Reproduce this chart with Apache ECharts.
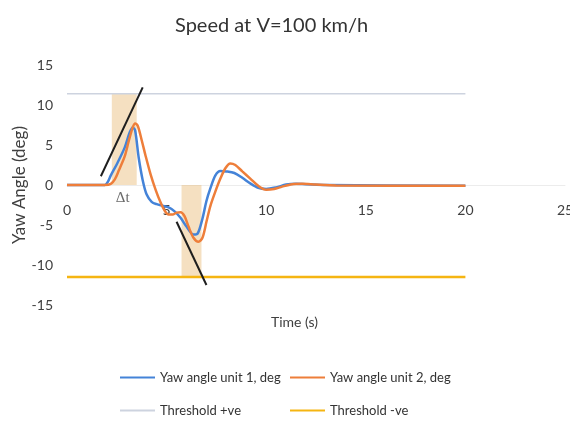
<!DOCTYPE html>
<html><head><meta charset="utf-8">
<script src="https://cdn.jsdelivr.net/npm/echarts@6/dist/echarts.min.js"></script>
<style>html,body{margin:0;padding:0;background:#fff}#c{width:570px;height:422px}</style>
</head><body><div id="c"></div>
<script>
const titleText = 'Speed at V=100 km/h';
const xAxisTitle = 'Time (s)';
const yAxisTitle = 'Yaw Angle (deg)';
const seriesNames = ['Yaw angle unit 1, deg', 'Yaw angle unit 2, deg', 'Threshold +ve', 'Threshold -ve'];

const unit1Time = [0, 1.5, 1.9, 2.05, 2.2, 2.5, 2.9, 3.15, 3.3, 3.42, 3.6, 3.8, 4.0, 4.25, 4.5, 4.8, 5.1, 5.4, 5.7, 6.0, 6.35, 6.55, 6.8, 7.0, 7.2, 7.45, 7.7, 8.0, 8.4, 8.8, 9.2, 9.6, 10.0, 10.5, 11.0, 11.5, 12.0, 13.0, 20];
const unit1Yaw  = [0, 0, 0, 0.4, 1.2, 2.6, 4.7, 6.6, 7.2, 6.8, 3.4, 0.6, -1.2, -2.1, -2.4, -2.6, -2.8, -3.3, -4.1, -5.2, -6.2, -6.1, -4.2, -2.0, -0.4, 1.2, 1.75, 1.7, 1.5, 0.9, 0.2, -0.35, -0.5, -0.3, 0.05, 0.15, 0.1, 0, -0.1];

const unit2Time = [0, 1.9, 2.2, 2.4, 2.6, 2.9, 3.1, 3.3, 3.42, 3.55, 3.75, 3.95, 4.2, 4.45, 4.7, 4.9, 5.1, 5.3, 5.5, 5.7, 5.9, 6.1, 6.35, 6.6, 6.8, 7.0, 7.2, 7.45, 7.7, 7.95, 8.2, 8.45, 8.8, 9.2, 9.6, 10.0, 10.4, 10.8, 11.3, 11.8, 12.5, 13.5, 20];
const unit2Yaw  = [0, 0, 0.15, 0.7, 1.8, 3.6, 5.5, 7.2, 7.7, 7.4, 5.6, 3.6, 1.3, -0.6, -2.2, -3.2, -3.7, -3.7, -3.45, -3.4, -3.9, -5.2, -6.6, -7.1, -6.6, -4.6, -2.6, -0.8, 0.8, 2.1, 2.7, 2.5, 1.7, 0.8, -0.1, -0.6, -0.5, -0.2, 0.1, 0.15, 0.05, -0.05, -0.1];

const thresholdTime = [0, 20];
const thresholdPos = [11.4, 11.4];
const thresholdNeg = [-11.5, -11.5];

// annotation: shaded response windows (Δt)
const shadeStart = [2.25, 5.75];
const shadeEnd   = [3.5, 6.75];
const shadeLow   = [0, -11.5];
const shadeHigh  = [11.4, 0];
// annotation: tangent lines [t, yaw]
const tangent1Time = [1.7, 3.8];
const tangent1Yaw  = [1.1, 12.2];
const tangent2Time = [5.5, 7.0];
const tangent2Yaw  = [-4.6, -12.5];
const deltaLabelPos = [2.8, -1.6];

const zip = (a, b) => a.map((v, i) => [v, b[i]]);
const FONT = 'Lato, "Open Sans", sans-serif';

const chart = echarts.init(document.getElementById('c'), null, {renderer: 'canvas'});
const legendBase = {
  orient: 'horizontal', itemWidth: 35, itemHeight: 2, icon: 'rect', itemGap: 10,
  textStyle: {fontFamily: FONT, fontSize: 13, color: '#333'}, padding: 0
};
chart.setOption({
  backgroundColor: '#fff',
  animation: false,
  title: {
    text: titleText, left: 170, top: 11,
    textStyle: {fontFamily: FONT, fontSize: 20, fontWeight: 'normal', color: '#333'}
  },
  legend: [
    Object.assign({}, legendBase, {left: 120, top: 371, data: [seriesNames[0]]}),
    Object.assign({}, legendBase, {left: 290, top: 371, data: [seriesNames[1]]}),
    Object.assign({}, legendBase, {left: 120, top: 404, data: [seriesNames[2]]}),
    Object.assign({}, legendBase, {left: 290, top: 404, data: [seriesNames[3]]})
  ],
  grid: {left: 67, right: 5, top: 65, bottom: 117, containLabel: false, outerBoundsMode: 'none'},
  xAxis: {
    type: 'value', min: 0, max: 25, interval: 5, position: 'bottom', offset: -120,
    axisLine: {onZero: false, lineStyle: {color: '#ececec', width: 1}},
    axisTick: {show: false}, splitLine: {show: false},
    axisLabel: {fontFamily: FONT, fontSize: 14, color: '#404040', margin: 18}
  },
  yAxis: {
    type: 'value', min: -15, max: 15, interval: 5,
    axisLine: {show: false}, axisTick: {show: false}, splitLine: {show: false},
    axisLabel: {fontFamily: FONT, fontSize: 14, color: '#404040', margin: 14}
  },
  graphic: [{
    type: 'text', left: 271, top: 315,
    style: {text: xAxisTitle, font: '14px ' + FONT, fill: '#404040'}
  }, {
    type: 'text', x: 20, y: 185, rotation: Math.PI / 2,
    style: {text: yAxisTitle, font: '17px ' + FONT, fill: '#404040', align: 'center', verticalAlign: 'middle'}
  }],
  series: [
    {
      name: seriesNames[2], type: 'line', data: zip(thresholdTime, thresholdPos),
      symbol: 'none', lineStyle: {color: '#cdd3df', width: 1.5}, itemStyle: {color: '#cdd3df'}, z: 2,
      markArea: {
        silent: true,
        itemStyle: {color: 'rgba(232,186,118,0.45)'},
        data: shadeStart.map((s, i) => [{coord: [s, shadeHigh[i]]}, {coord: [shadeEnd[i], shadeLow[i]]}])
      }
    },
    {
      name: seriesNames[3], type: 'line', data: zip(thresholdTime, thresholdNeg),
      symbol: 'none', lineStyle: {color: '#F5B512', width: 2.5}, itemStyle: {color: '#F5B512'}, z: 2
    },
    {
      name: seriesNames[0], type: 'line', data: zip(unit1Time, unit1Yaw), smooth: 0.3,
      symbol: 'none', lineStyle: {color: '#4483D8', width: 2.5}, itemStyle: {color: '#4483D8'}, z: 3
    },
    {
      name: seriesNames[1], type: 'line', data: zip(unit2Time, unit2Yaw), smooth: 0.3,
      symbol: 'none', lineStyle: {color: '#EE7E3A', width: 2.5}, itemStyle: {color: '#EE7E3A'}, z: 4
    },
    {
      name: 'tangent1', type: 'line', data: zip(tangent1Time, tangent1Yaw),
      symbol: 'none', lineStyle: {color: '#1e1e1e', width: 2}, z: 5
    },
    {
      name: 'tangent2', type: 'line', data: zip(tangent2Time, tangent2Yaw),
      symbol: 'none', lineStyle: {color: '#1e1e1e', width: 2}, z: 5
    },
    {
      name: 'deltaT', type: 'scatter', data: [deltaLabelPos], symbolSize: 0, z: 6,
      label: {show: true, position: 'inside', formatter: 'Δt', fontFamily: '"Liberation Serif", serif', fontSize: 15, color: '#444'}
    }
  ]
});
</script></body></html>
